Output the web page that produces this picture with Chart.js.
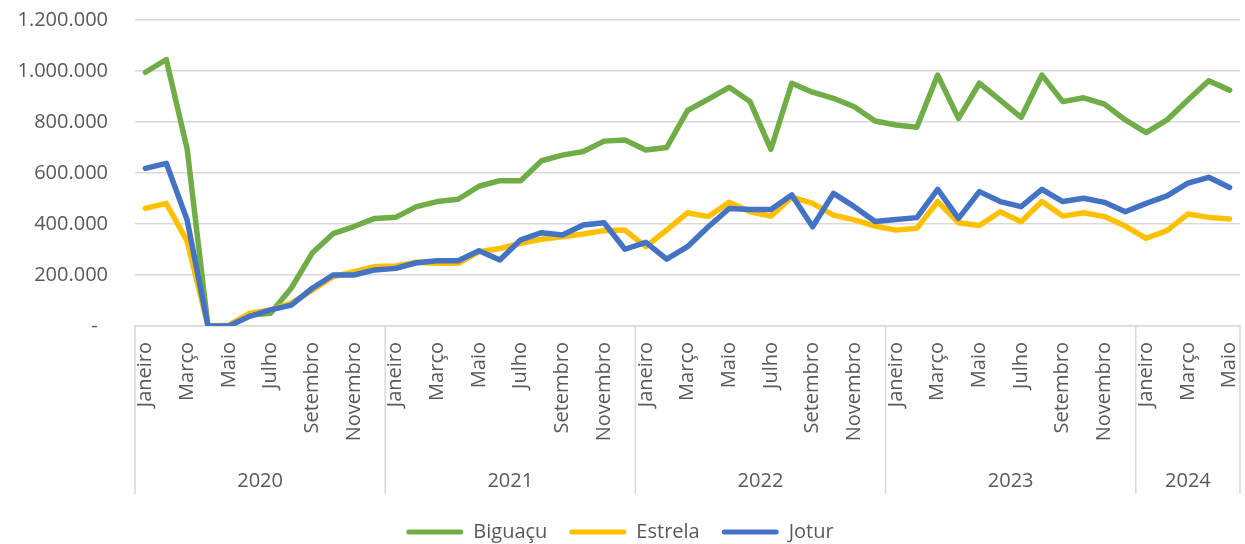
<!DOCTYPE html>
<html>
<head>
<meta charset="utf-8">
<script src="https://cdn.jsdelivr.net/npm/chart.js@4"></script>
<style>
  body { margin: 0; background: #fff; }
  #wrap { width: 1245px; height: 544px; }
</style>
</head>
<body>
<div id="wrap"><canvas id="lineChart"></canvas></div>
<script>
// months / years on the x axis
const monthNames = ['Janeiro', 'Fevereiro', 'Março', 'Abril', 'Maio', 'Junho',
  'Julho', 'Agosto', 'Setembro', 'Outubro', 'Novembro', 'Dezembro'];
const years = ['2020', '2021', '2022', '2023', '2024'];
const monthsPerYear = [12, 12, 12, 12, 5];

// series values (jan/2020 - mai/2024)
const biguacu = [
  995000, 1045000, 695000, 0, 0, 43000, 50000, 149000, 286000, 362000, 390000, 422000,
  426000, 468000, 488000, 497000, 548000, 570000, 570000, 648000, 670000, 684000, 725000, 729000,
  690000, 700000, 845000, 890000, 936000, 880000, 693000, 952000, 917000, 893000, 860000, 804000,
  788000, 779000, 984000, 814000, 952000, 886000, 818000, 984000, 880000, 895000, 870000, 808000,
  758000, 808000, 886000, 962000, 925000
];
const estrela = [
  461000, 481000, 333000, 0, 3000, 50000, 63000, 90000, 141000, 193000, 213000, 233000,
  235000, 250000, 246000, 246000, 291000, 304000, 324000, 340000, 350000, 361000, 374000, 376000,
  311000, 376000, 444000, 429000, 485000, 448000, 431000, 505000, 481000, 435000, 416000, 392000,
  376000, 383000, 488000, 405000, 394000, 448000, 409000, 488000, 431000, 444000, 429000, 392000,
  344000, 374000, 439000, 426000, 420000
];
const jotur = [
  618000, 638000, 416000, 0, 0, 38000, 63000, 82000, 148000, 200000, 200000, 220000,
  226000, 248000, 256000, 256000, 295000, 259000, 338000, 366000, 357000, 396000, 405000, 301000,
  328000, 262000, 311000, 389000, 461000, 457000, 457000, 514000, 389000, 520000, 468000, 410000,
  418000, 425000, 536000, 422000, 527000, 488000, 468000, 536000, 488000, 501000, 485000, 448000,
  481000, 510000, 560000, 583000, 543000
];

const yTicks = [0, 200000, 400000, 600000, 800000, 1000000, 1200000];

let labels = [];
for (let y = 0; y < years.length; y++) {
  for (let m = 0; m < monthsPerYear[y]; m++) {
    labels.push(monthNames[m]);
  }
}

const fontFam = '"Open Sans", sans-serif';
const gray = '#595959';
const gridGray = '#d9d9d9';

function fmt(v) {
  if (v === 0) return '-  ';
  return String(v).replace(/\B(?=(\d{3})+(?!\d))/g, '.');
}

// year groups under the month labels
const yearGroups = {
  id: 'yearGroups',
  afterDraw(chart) {
    const ctx = chart.ctx;
    const xs = chart.scales.x;
    const area = chart.chartArea;
    const bottom = area.bottom + 168;
    let start = 0;
    let edges = [area.left];
    let centers = [];
    for (let y = 0; y < years.length; y++) {
      const end = start + monthsPerYear[y] - 1;
      let right;
      if (y === years.length - 1) right = area.right;
      else right = (xs.getPixelForValue(end) + xs.getPixelForValue(end + 1)) / 2;
      centers.push((edges[edges.length - 1] + right) / 2);
      edges.push(right);
      start = end + 1;
    }
    ctx.save();
    ctx.strokeStyle = gridGray;
    ctx.lineWidth = 1.5;
    edges.forEach(function (ex) {
      ctx.beginPath();
      ctx.moveTo(ex, area.bottom);
      ctx.lineTo(ex, bottom);
      ctx.stroke();
    });
    ctx.fillStyle = gray;
    ctx.font = '20px ' + fontFam;
    ctx.textAlign = 'center';
    ctx.textBaseline = 'middle';
    centers.forEach(function (cx, i) {
      ctx.fillText(years[i], cx, area.bottom + 155);
    });
    ctx.restore();
  }
};

const ctx = document.getElementById('lineChart').getContext('2d');
const lineChart = new Chart(ctx, {
  type: 'line',
  data: {
    labels: labels,
    datasets: [
      { label: 'Biguaçu', data: biguacu, borderColor: '#70ad47', backgroundColor: '#70ad47', order: 3 },
      { label: 'Estrela', data: estrela, borderColor: '#ffc000', backgroundColor: '#ffc000', order: 2 },
      { label: 'Jotur', data: jotur, borderColor: '#4472c4', backgroundColor: '#4472c4', order: 1 }
    ]
  },
  options: {
    responsive: true,
    maintainAspectRatio: false,
    animation: false,
    elements: {
      line: { borderWidth: 5.5, tension: 0, borderJoinStyle: 'round', borderCapStyle: 'round' },
      point: { radius: 0 }
    },
    layout: { padding: { top: 20, right: 5, left: 0, bottom: -8 } },
    scales: {
      x: {
        offset: true,
        grid: { display: false, drawTicks: false },
        border: { display: true, color: gridGray, width: 1.5 },
        ticks: {
          autoSkip: false,
          maxRotation: 90,
          minRotation: 90,
          padding: 16,
          color: gray,
          font: { family: fontFam, size: 20 },
          callback: function (val, i) { return i % 2 === 0 ? labels[i] : ''; }
        },
        afterFit: function (scale) {
          scale.height = 174;
          scale.paddingLeft = 0;
          scale.paddingRight = 0;
        }
      },
      y: {
        min: 0,
        max: 1200000,
        grid: { color: gridGray, lineWidth: 1.5, drawTicks: false },
        border: { display: false },
        afterBuildTicks: function (scale) { scale.ticks = yTicks.map(v => ({ value: v })); },
        ticks: {
          padding: 27,
          color: gray,
          font: { family: fontFam, size: 20 },
          callback: function (v) { return fmt(v); }
        },
        afterFit: function (scale) {
          scale.width = 135;
          scale.paddingTop = 0;
          scale.paddingBottom = 0;
        }
      }
    },
    plugins: {
      tooltip: { enabled: false },
      legend: {
        position: 'bottom',
        labels: {
          boxWidth: 57,
          boxHeight: 5,
          padding: 22,
          color: gray,
          font: { family: fontFam, size: 20 },
          useBorderRadius: true,
          borderRadius: 2.5,
          sort: (a, b) => a.datasetIndex - b.datasetIndex,
          generateLabels: function (chart) {
            return Chart.defaults.plugins.legend.labels.generateLabels(chart).map(function (l) {
              l.lineWidth = 0;
              return l;
            });
          }
        }
      }
    }
  },
  plugins: [yearGroups]
});
</script>
</body>
</html>
